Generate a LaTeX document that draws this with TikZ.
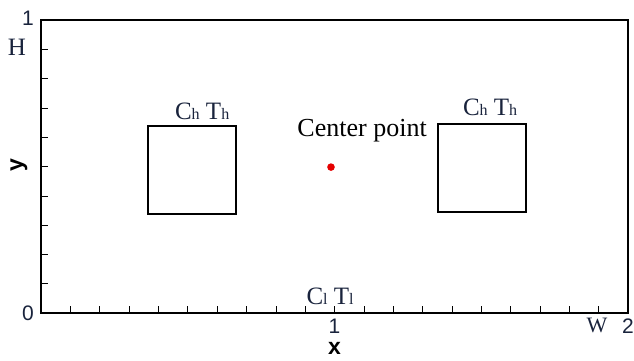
\documentclass[tikz,border=0pt]{standalone}
\usepackage{fontspec}
\setmainfont{Liberation Serif}
\setsansfont{Liberation Sans}
\usetikzlibrary{positioning}
\definecolor{labnavy}{RGB}{25,35,60}
\newcommand{\sm}[1]{{\fontsize{16}{16}\selectfont #1}}

\begin{document}
\begin{tikzpicture}[
        x=293.5pt, y=293pt,
        frame/.style={draw=black, line width=2pt},
        block/.style={rectangle, draw=black, line width=2pt, minimum width=88pt, minimum height=88pt, inner sep=0pt},
        ticklab/.style={font=\sffamily\fontsize{21}{21}\selectfont, text=labnavy, inner sep=0pt},
        axlab/.style={font=\sffamily\bfseries\fontsize{23}{23}\selectfont, inner sep=0pt},
        symlab/.style={font=\fontsize{25}{25}\selectfont, text=labnavy, inner sep=0pt}
    ]
        \useasboundingbox (-0.1397,-0.1604) rectangle (2.0204,1.0683);

        % Domain
        \draw[frame] (0,0) rectangle (2,1);
        \foreach \t in {1,...,19} {
            \draw[line width=0.6pt] (\t/10,0) -- ++(0,7pt);
        }
        \foreach \t in {1,...,9} {
            \draw[line width=0.6pt] (0,\t/10) -- ++(7pt,0);
        }
        \draw[line width=1.4pt] (0,0.5) -- ++(7pt,0);
        \draw[line width=1.4pt] (1,0) -- ++(0,7pt);
        \draw[line width=1.4pt] (1.5,0) -- ++(0,7pt);

        % Heated blocks
        \node[block] (lsq) at (0.515,0.488) {};
        \node[block] (rsq) at (1.503,0.496) {};
        \node[symlab, above=5pt of lsq, xshift=10pt] (lhot) {C\sm{h} T\sm{h}};
        \node[symlab, above=7pt of rsq, xshift=8pt] (rhot) {C\sm{h} T\sm{h}};

        % Centre
        \fill[red!90!black] (0.988,0.498) circle (3.8pt) coordinate (cpt);
        \node[symlab, text=black, font=\fontsize{26}{26}\selectfont] (cplab) at (1.094,0.621) {Center point};

        % Cold wall
        \node[symlab] (cold) at (0.985,0.058) {C\sm{l} T\sm{l}};

        % Axes
        \node[ticklab] (y1) at (-0.044,1.007) {1};
        \node[ticklab] (y0) at (-0.044,0) {0};
        \node[ticklab] (x1) at (1,-0.044) {1};
        \node[ticklab] (x2) at (2,-0.044) {2};
        \node[symlab] (hlab) at (-0.082,0.908) {H};
        \node[symlab, font=\fontsize{22}{22}\selectfont] (wlab) at (1.894,-0.043) {W};
        \node[axlab] (xlab) at (1,-0.12) {x};
        \node[axlab, rotate=90] (ylab) at (-0.075,0.505) {y};
    \end{tikzpicture}
\end{document}
